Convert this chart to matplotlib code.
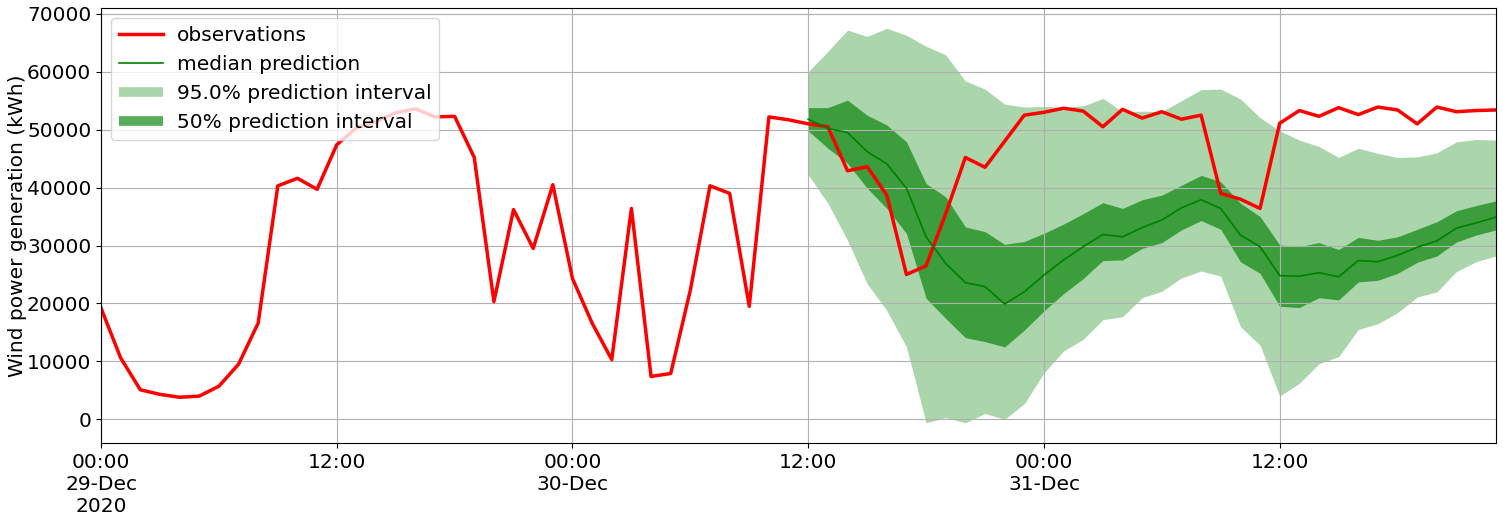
import matplotlib
matplotlib.use("Agg")
import matplotlib.pyplot as plt
from matplotlib.lines import Line2D
import pandas as pd

# hourly observations, 29-Dec 00:00 .. 31-Dec 23:00
observations = [19200, 10600, 5100, 4300, 3800, 4000, 5700, 9500, 16600, 40300, 41600, 39700,
                47400, 50300, 51400, 52900, 53600, 52200, 52300, 45200, 20300, 36200, 29500, 40500,
                24300, 16600, 10300, 36400, 7400, 7900, 22300, 40300, 39000, 19500, 52200, 51700,
                51000, 50500, 42900, 43600, 38700, 25000, 26500, 35500, 45200, 43500, 48000, 52500,
                53000, 53700, 53200, 50500, 53500, 52000, 53100, 51800, 52500, 39000, 38000, 36400,
                51100, 53300, 52300, 53800, 52600, 53900, 53400, 51000, 53900, 53100, 53300, 53400]

# forecast, 30-Dec 12:00 .. 31-Dec 23:00
median = [51800, 50200, 49500, 46200, 44100, 39900, 31500, 26900, 23600, 22900, 19900, 22000,
          24900, 27500, 29800, 31900, 31500, 33100, 34400, 36500, 37900, 36400, 31800, 29800,
          24800, 24700, 25300, 24600, 27400, 27200, 28300, 29700, 30800, 33000, 33900, 34900]
q75 = [53800, 53800, 55100, 52500, 50800, 47900, 40700, 38400, 33200, 32400, 30200, 30700,
       32100, 33700, 35500, 37400, 36400, 37900, 38700, 40400, 42100, 41000, 37300, 35000,
       30100, 29800, 30500, 29300, 31400, 30900, 31500, 32800, 34100, 36000, 36900, 37700]
q25 = [49800, 46800, 44200, 39900, 36400, 32100, 20900, 17400, 14100, 13400, 12500, 15400,
       18700, 21700, 24300, 27400, 27500, 29500, 30500, 32700, 34300, 32800, 27200, 25200,
       19500, 19300, 21000, 20600, 23700, 24000, 25200, 27100, 28200, 30600, 31800, 32700]
q975 = [60000, 63500, 67200, 66100, 67500, 66300, 64400, 62900, 58400, 57000, 54400, 53900,
        54000, 53900, 54100, 55400, 53100, 53200, 53100, 55000, 56900, 57000, 55300, 52100,
        49800, 48200, 47100, 45200, 46800, 45900, 45200, 45300, 46000, 47900, 48300, 48200]
q025 = [42200, 37300, 30900, 23400, 18800, 12500, -600, 300, -600, 1000, 0, 2700,
        8000, 11800, 13800, 17200, 17700, 21000, 22100, 24400, 25600, 24700, 16000, 12800,
        4000, 6200, 9600, 10800, 15500, 16500, 18400, 21100, 22000, 25500, 27200, 28200]

obs_time = pd.date_range("2020-12-29 00:00", periods=len(observations), freq="h")
pred_time = pd.date_range("2020-12-30 12:00", periods=len(median), freq="h")

tick_time = pd.date_range("2020-12-29 00:00", periods=6, freq="12h")
tick_labels = ["00:00\n29-Dec\n2020", "12:00", "00:00\n30-Dec", "12:00", "00:00\n31-Dec", "12:00"]

plt.rcParams["font.size"] = 14.5

fig = plt.figure(figsize=(15.03, 5.2), dpi=100)
ax = fig.add_axes([0.0672, 0.148, 0.928, 0.8366])

ax.fill_between(pred_time, q025, q975, color="green", alpha=0.33, linewidth=0)
ax.fill_between(pred_time, q25, q75, color="green", alpha=0.65, linewidth=0)
ax.plot(obs_time, observations, color="red", linewidth=2.5)
ax.plot(pred_time, median, color="green", linewidth=1.2)

ax.set_xlim(obs_time[0], obs_time[-1])
ax.set_ylim(-4100, 71000)
ax.set_xticks(tick_time)
ax.set_xticklabels(tick_labels)
ax.set_yticks(range(0, 70001, 10000))
ax.set_ylabel("Wind power generation (kWh)", labelpad=0)
ax.grid(True)

handles = [
    Line2D([], [], color="red", linewidth=2.5),
    Line2D([], [], color="green", linewidth=1.2),
    Line2D([], [], color="green", alpha=0.33, linewidth=7, solid_capstyle="butt"),
    Line2D([], [], color="green", alpha=0.65, linewidth=7, solid_capstyle="butt"),
]
labels = ["observations", "median prediction", "95.0% prediction interval", "50% prediction interval"]
ax.legend(handles, labels, loc="upper left", handlelength=2.2, handletextpad=0.65)

fig.savefig("out.png", dpi=100)
